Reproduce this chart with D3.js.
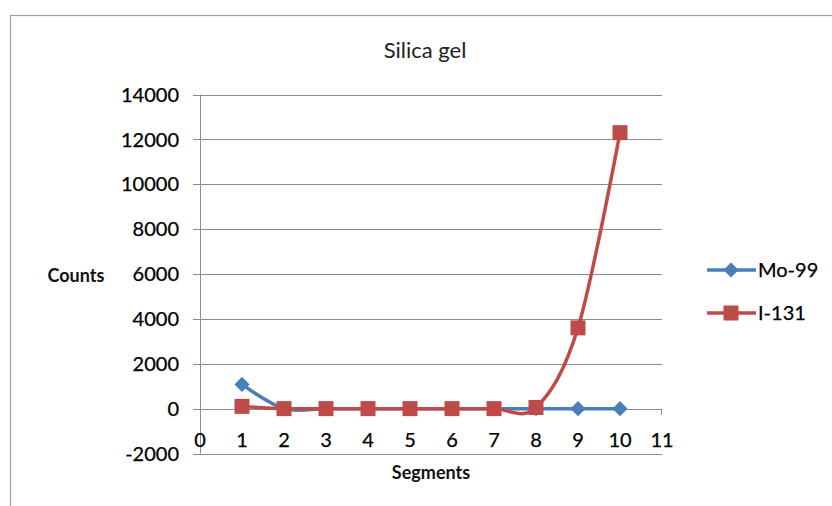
<!DOCTYPE html>
<html><head><meta charset="utf-8">
<script src="https://cdn.jsdelivr.net/npm/d3@7"></script>
<style>body{margin:0;background:#fff}svg{display:block;font-family:Lato,"Open Sans",sans-serif}</style>
</head><body><svg id="c" width="832" height="506"></svg>
<script>
const segments = [1,2,3,4,5,6,7,8,9,10];
const mo99 = [1080,0,0,0,0,0,0,0,0,0];
const i131 = [100,0,0,0,0,0,0,50,3600,12300];
const yTicks = [-2000,0,2000,4000,6000,8000,10000,12000,14000];
const xTicks = [0,1,2,3,4,5,6,7,8,9,10,11];
const seriesNames = ["Mo-99","I-131"];
const colors = ["#4a7ebb","#be4b48"];

const svg = d3.select("#c");
svg.append("rect").attr("x",10.5).attr("y",15.5).attr("width",830).attr("height",500)
  .attr("fill","#fff").attr("stroke","#a0a0a0").attr("stroke-width",1.2);

const x = d3.scaleLinear().domain([0,11]).range([200,662]);
const y = d3.scaleLinear().domain([-2000,14000]).range([453.5,94.5]);

svg.append("g").selectAll("line").data(yTicks).join("line")
  .attr("x1",193).attr("x2",662).attr("y1",d=>Math.round(y(d))+0.5).attr("y2",d=>Math.round(y(d))+0.5)
  .attr("stroke","#8c8c8c").attr("stroke-width",1);
svg.append("line").attr("x1",200.5).attr("x2",200.5).attr("y1",y(14000)).attr("y2",y(-2000))
  .attr("stroke","#8c8c8c");
svg.append("g").selectAll("line").data([11]).join("line")
  .attr("x1",d=>x(d)-0.5).attr("x2",d=>x(d)-0.5).attr("y1",y(0)).attr("y2",y(0)+6)
  .attr("stroke","#8c8c8c");

svg.append("g").selectAll("text").data(yTicks).join("text")
  .attr("x",179).attr("y",d=>y(d)).attr("dy","0.36em").attr("text-anchor","end")
  .attr("font-size",20).attr("fill","#000").attr("stroke","#000").attr("stroke-width",0.25).text(d=>d);
svg.append("g").selectAll("text").data(xTicks).join("text")
  .attr("x",d=>x(d)).attr("y",440).attr("dy","0.36em").attr("text-anchor","middle")
  .attr("font-size",20).attr("fill","#000").attr("stroke","#000").attr("stroke-width",0.25).text(d=>d);

svg.append("text").attr("x",425).attr("y",50).attr("dy","0.36em").attr("text-anchor","middle")
  .attr("font-size",22).attr("fill","#222").text("Silica gel");
svg.append("text").attr("x",76).attr("y",276).attr("dy","0.36em").attr("text-anchor","middle")
  .attr("font-size",18).attr("font-weight","bold").attr("fill","#111").text("Counts");
svg.append("text").attr("x",431).attr("y",473).attr("dy","0.36em").attr("text-anchor","middle")
  .attr("font-size",18).attr("font-weight","bold").attr("fill","#111").text("Segments");

const line = d3.line().x(d=>x(d[0])).y(d=>y(d[1])).curve(d3.curveCardinal.tension(0));
const series = [mo99,i131];
series.forEach((vals,i)=>{
  const pts = segments.map((s,j)=>[s,vals[j]]);
  svg.append("path").attr("d",line(pts)).attr("fill","none").attr("stroke",colors[i]).attr("stroke-width",3.5);
});
const sym = [d3.symbolSquare, d3.symbolSquare];
const sz = [115,225];
const rot = [45,0];
series.forEach((vals,i)=>{
  svg.append("g").selectAll("path").data(segments.map((s,j)=>[s,vals[j]])).join("path")
    .attr("transform",d=>`translate(${x(d[0])},${y(d[1])}) rotate(${rot[i]})`)
    .attr("d",d3.symbol().type(sym[i]).size(sz[i])).attr("fill",colors[i]);
});

const ly = [270,313];
seriesNames.forEach((n,i)=>{
  const g = svg.append("g");
  g.append("line").attr("x1",707).attr("x2",756).attr("y1",ly[i]).attr("y2",ly[i]).attr("stroke",colors[i]).attr("stroke-width",3.5);
  g.append("path").attr("transform",`translate(731,${ly[i]}) rotate(${rot[i]})`).attr("d",d3.symbol().type(sym[i]).size(sz[i])).attr("fill",colors[i]);
  g.append("text").attr("x",758).attr("y",ly[i]).attr("dy","0.36em").attr("font-size",20).attr("fill","#000").attr("stroke","#000").attr("stroke-width",0.25).text(n);
});
</script></body></html>
